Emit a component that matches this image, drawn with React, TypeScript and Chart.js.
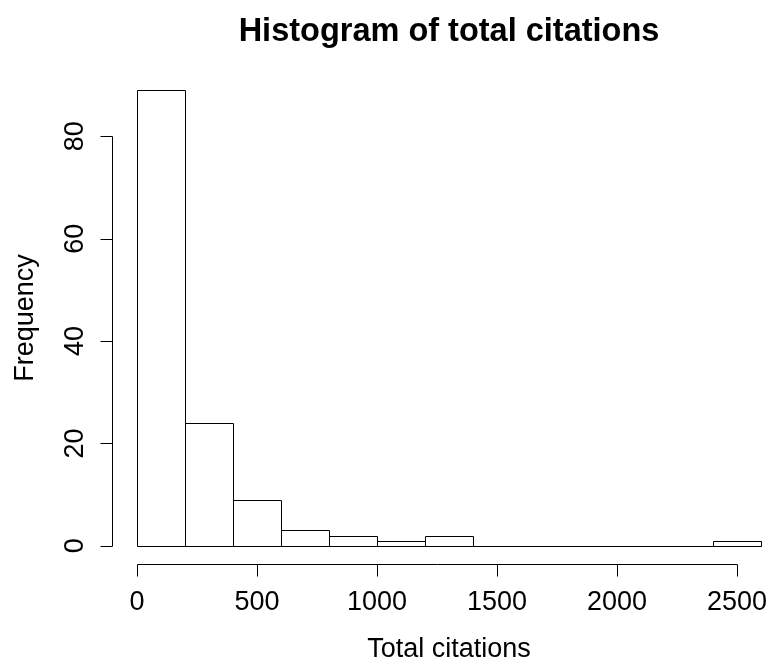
import React, { useEffect, useRef } from "react";
import { Chart, registerables } from "chart.js";

Chart.register(...registerables);

// ---- data ----
const binStarts = [0, 200, 400, 600, 800, 1000, 1200, 1400, 1600, 1800, 2000, 2200, 2400];
const binWidth = 200;
const frequencies = [89, 24, 9, 3, 2, 1, 2, 0, 0, 0, 0, 0, 1];
const xTickValues = [0, 500, 1000, 1500, 2000, 2500];
const yTickValues = [0, 20, 40, 60, 80];
const titleText = "Histogram of total citations";
const xLabelText = "Total citations";
const yLabelText = "Frequency";

const FONT = '"Liberation Sans", Arial, Helvetica, sans-serif';

const rStylePlugin = {
  id: "rStyle",
  afterDatasetsDraw(chart: any) {
    const ctx: CanvasRenderingContext2D = chart.ctx;
    const xs = chart.scales.x;
    const ys = chart.scales.y;
    const area = chart.chartArea;
    const meta = chart.getDatasetMeta(0);
    ctx.save();
    ctx.strokeStyle = "#000";
    ctx.lineWidth = 1;

    // histogram bar outlines (from the bar elements computed by the library)
    meta.data.forEach((el: any) => {
      const { x, y, base, width } = el.getProps(["x", "y", "base", "width"], true);
      const l = Math.round(x - width / 2) + 0.5;
      const r = Math.round(x + width / 2) + 0.5;
      const t = Math.round(y) + 0.5;
      const b = Math.round(base) + 0.5;
      ctx.beginPath();
      ctx.rect(l, t, r - l, b - t);
      ctx.stroke();
    });

    const tickLen = 12;
    // x axis
    const axY = Math.round(area.bottom) + 0.5;
    const x0 = Math.round(xs.getPixelForValue(xTickValues[0])) + 0.5;
    const x1 = Math.round(xs.getPixelForValue(xTickValues[xTickValues.length - 1])) + 0.5;
    ctx.beginPath();
    ctx.moveTo(x0, axY);
    ctx.lineTo(x1, axY);
    xTickValues.forEach((v) => {
      const px = Math.round(xs.getPixelForValue(v)) + 0.5;
      ctx.moveTo(px, axY);
      ctx.lineTo(px, axY + tickLen);
    });
    ctx.stroke();

    // y axis
    const axX = Math.round(area.left) + 0.5;
    const y0 = Math.round(ys.getPixelForValue(yTickValues[0])) + 0.5;
    const y1 = Math.round(ys.getPixelForValue(yTickValues[yTickValues.length - 1])) + 0.5;
    ctx.beginPath();
    ctx.moveTo(axX, y0);
    ctx.lineTo(axX, y1);
    yTickValues.forEach((v) => {
      const py = Math.round(ys.getPixelForValue(v)) + 0.5;
      ctx.moveTo(axX, py);
      ctx.lineTo(axX - tickLen, py);
    });
    ctx.stroke();

    // tick labels
    ctx.fillStyle = "#000";
    ctx.font = `27px ${FONT}`;
    ctx.textAlign = "center";
    ctx.textBaseline = "alphabetic";
    xTickValues.forEach((v) => {
      ctx.fillText(String(v), xs.getPixelForValue(v), area.bottom + 46);
    });
    yTickValues.forEach((v) => {
      ctx.save();
      ctx.translate(area.left - 29, ys.getPixelForValue(v));
      ctx.rotate(-Math.PI / 2);
      ctx.fillText(String(v), 0, 0);
      ctx.restore();
    });

    // axis titles
    const plotCx = 449;
    const plotCy = (area.top + area.bottom) / 2;
    ctx.fillText(xLabelText, plotCx, area.bottom + 93);
    ctx.save();
    ctx.translate(33, plotCy);
    ctx.rotate(-Math.PI / 2);
    ctx.fillText(yLabelText, 0, 0);
    ctx.restore();

    // main title
    ctx.font = `bold 32.5px ${FONT}`;
    ctx.fillText(titleText, plotCx, 41);

    ctx.restore();
  },
};

export default function App() {
  const canvasRef = useRef<HTMLCanvasElement | null>(null);

  useEffect(() => {
    if (!canvasRef.current) return;
    const chart = new Chart(canvasRef.current, {
      type: "bar",
      data: {
        datasets: [
          {
            label: yLabelText,
            data: binStarts.map((s, i) => ({ x: s + binWidth / 2, y: frequencies[i] })),
            backgroundColor: "#ffffff",
            borderWidth: 0,
            barPercentage: 1,
            categoryPercentage: 1,
          },
        ],
      },
      options: {
        animation: false,
        responsive: false,
        devicePixelRatio: 1,
        layout: { padding: { left: 112, right: 0, top: 72, bottom: 102 } },
        plugins: {
          legend: { display: false },
          title: { display: false },
          tooltip: { enabled: false },
        },
        scales: {
          x: {
            type: "linear",
            display: false,
            offset: false,
            min: -104,
            max: 2642,
            grid: { offset: false },
            ticks: { stepSize: 500, includeBounds: false },
          },
          y: {
            type: "linear",
            display: false,
            min: -3.56,
            max: 92.56,
            ticks: { stepSize: 20, includeBounds: false },
          },
        },
      },
      plugins: [rStylePlugin],
    });
    return () => chart.destroy();
  }, []);

  return (
    <div
      style={{
        position: "absolute",
        left: 0,
        top: 0,
        width: 771,
        height: 666,
        background: "#ffffff",
      }}
    >
      <canvas ref={canvasRef} width={771} height={666} style={{ display: "block" }} />
    </div>
  );
}
